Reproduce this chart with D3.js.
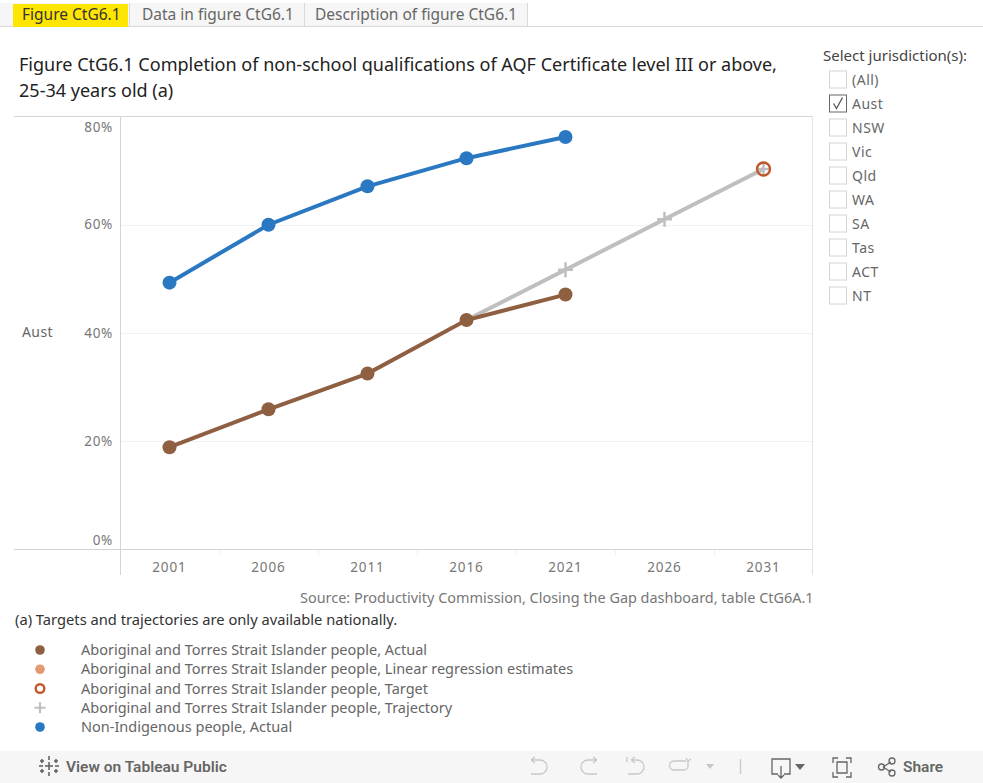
<!DOCTYPE html>
<html>
<head>
<meta charset="utf-8">
<title>Figure CtG6.1</title>
<script src="https://cdn.jsdelivr.net/npm/d3@7"></script>
<style>
html, body { margin: 0; padding: 0; background: #fff; overflow: hidden; }
svg { display: block; }
text { font-family: "Noto Sans", sans-serif; }
</style>
</head>
<body>
<svg id="chart" width="983" height="783"></svg>
<script>
var years = [2001, 2006, 2011, 2016, 2021, 2026, 2031];
var yTicks = [0, 20, 40, 60, 80];

var nonIndigenousActual = [[2001, 49.3], [2006, 60.0], [2011, 67.1], [2016, 72.3], [2021, 76.2]];
var indigenousActual = [[2001, 18.9], [2006, 25.9], [2011, 32.5], [2016, 42.4], [2021, 47.1]];
var indigenousTrajectory = [[2016, 42.4], [2021, 51.7], [2026, 61.0], [2031, 70.3]];
var indigenousTarget = [[2031, 70.3]];

var tabLabels = ['Figure CtG6.1', 'Data in figure CtG6.1', 'Description of figure CtG6.1'];
var jurisdictions = ['(All)', 'Aust', 'NSW', 'Vic', 'Qld', 'WA', 'SA', 'Tas', 'ACT', 'NT'];
var legendLabels = [
    'Aboriginal and Torres Strait Islander people, Actual',
    'Aboriginal and Torres Strait Islander people, Linear regression estimates',
    'Aboriginal and Torres Strait Islander people, Target',
    'Aboriginal and Torres Strait Islander people, Trajectory',
    'Non-Indigenous people, Actual'
];

var BROWN = '#8f5f42', BLUE = '#2b78c2', GREY = '#bfbfbf', ORANGE = '#c0582a', PEACH = '#e39a72';
var TEXT = '#666666';

var svg = d3.select('#chart');

var xScale = d3.scaleBand().domain(years).range([120, 813]);
var yScale = d3.scaleLinear().domain([0, 80]).range([549.5, 116.5]);
var xPos = function (d) { return xScale(d[0]) + xScale.bandwidth() / 2; };
var yPos = function (d) { return yScale(d[1]); };

// tabs along the top
var tabTextX = [22, 142, 315];
var tabDividers = [129, 304, 527];
svg.append('rect').attr('x', 0).attr('y', 3).attr('width', 527).attr('height', 23).attr('fill', '#f6f6f6');
svg.append('line').attr('x1', 0).attr('x2', 983).attr('y1', 26.5).attr('y2', 26.5).attr('stroke', '#d9d9d9');
svg.append('rect').attr('x', 13).attr('y', 4).attr('width', 115).attr('height', 23).attr('fill', '#ffe600');
tabDividers.forEach(function (x) {
    svg.append('line').attr('x1', x + 0.5).attr('x2', x + 0.5).attr('y1', 3).attr('y2', 26).attr('stroke', '#d9d9d9');
});
svg.selectAll('.tab').data(tabLabels).enter().append('text')
    .attr('class', 'tab')
    .attr('x', function (d, i) { return tabTextX[i]; })
    .attr('y', 20)
    .attr('font-size', 15.5)
    .attr('fill', function (d, i) { return i === 0 ? '#333' : '#666'; })
    .text(function (d) { return d; });

// title
svg.append('text').attr('x', 19).attr('y', 71).attr('font-size', 18.05).attr('fill', '#222')
    .text('Figure CtG6.1 Completion of non-school qualifications of AQF Certificate level III or above,');
svg.append('text').attr('x', 19).attr('y', 97).attr('font-size', 18.05).attr('fill', '#222')
    .text('25-34 years old (a)');

// pane frame and gridlines
svg.append('g').selectAll('line').data([20, 40, 60]).enter().append('line')
    .attr('x1', 120).attr('x2', 813)
    .attr('y1', function (d) { return Math.round(yScale(d)) + 0.5; })
    .attr('y2', function (d) { return Math.round(yScale(d)) + 0.5; })
    .attr('stroke', '#f2f2f2');
svg.append('line').attr('x1', 14).attr('x2', 813).attr('y1', 116.5).attr('y2', 116.5).attr('stroke', '#d4d4d4');
svg.append('line').attr('x1', 14).attr('x2', 813).attr('y1', 549.5).attr('y2', 549.5).attr('stroke', '#d4d4d4');
svg.append('line').attr('x1', 120.5).attr('x2', 120.5).attr('y1', 116).attr('y2', 575).attr('stroke', '#d4d4d4');
svg.append('line').attr('x1', 812.5).attr('x2', 812.5).attr('y1', 116).attr('y2', 575).attr('stroke', '#e2e2e2');

// y labels, the first and last are pushed inside the pane
svg.selectAll('.ytick').data(yTicks).enter().append('text')
    .attr('class', 'ytick')
    .attr('x', 113)
    .attr('y', function (d) {
        if (d === 0) return yScale(d) - 5;
        if (d === 80) return yScale(d) + 15;
        return yScale(d) + 4.5;
    })
    .attr('text-anchor', 'end')
    .attr('font-size', 13.5)
    .attr('letter-spacing', 0.7)
    .attr('fill', '#777')
    .text(function (d) { return d + '%'; });
svg.append('text').attr('x', 22).attr('y', 337).attr('font-size', 14).attr('letter-spacing', 0.4).attr('fill', TEXT).text('Aust');

// x axis
var xAxis = d3.axisBottom(xScale).tickSize(0).tickPadding(0);
var xAxisG = svg.append('g').attr('transform', 'translate(0,559)').call(xAxis);
xAxisG.select('.domain').remove();
xAxisG.selectAll('text').attr('font-size', 13.5).attr('fill', '#777')
    .attr('letter-spacing', 0.9)
    .style('font-family', '"Noto Sans", sans-serif').attr('dy', '0.95em');
svg.selectAll('.xdiv').data(years.slice(1)).enter().append('line')
    .attr('class', 'xdiv')
    .attr('x1', function (d) { return xScale(d) + 0.5; })
    .attr('x2', function (d) { return xScale(d) + 0.5; })
    .attr('y1', 550).attr('y2', 555)
    .attr('stroke', '#f0f0f0');

// lines
var line = d3.line().x(xPos).y(yPos);
svg.append('path').datum(indigenousTrajectory).attr('d', line)
    .attr('fill', 'none').attr('stroke', GREY).attr('stroke-width', 4);
svg.append('path').datum(indigenousActual).attr('d', line)
    .attr('fill', 'none').attr('stroke', BROWN).attr('stroke-width', 4);
svg.append('path').datum(nonIndigenousActual).attr('d', line)
    .attr('fill', 'none').attr('stroke', BLUE).attr('stroke-width', 4);

// points
function plus(sel, size, width) {
    sel.append('path')
        .attr('d', 'M' + (-size) + ',0H' + size + 'M0,' + (-size) + 'V' + size)
        .attr('stroke', GREY).attr('stroke-width', width).attr('fill', 'none');
}
svg.selectAll('.traj').data(indigenousTrajectory.slice(1)).enter().append('g')
    .attr('class', 'traj')
    .attr('transform', function (d) { return 'translate(' + xPos(d) + ',' + yPos(d) + ')'; })
    .call(plus, 7.5, 2.5);
svg.selectAll('.target').data(indigenousTarget).enter().append('circle')
    .attr('class', 'target')
    .attr('cx', xPos).attr('cy', yPos).attr('r', 6.5)
    .attr('fill', 'none').attr('stroke', ORANGE).attr('stroke-width', 2.4);
svg.selectAll('.brown').data(indigenousActual).enter().append('circle')
    .attr('class', 'brown')
    .attr('cx', xPos).attr('cy', yPos).attr('r', 7).attr('fill', BROWN);
svg.selectAll('.blue').data(nonIndigenousActual).enter().append('circle')
    .attr('class', 'blue')
    .attr('cx', xPos).attr('cy', yPos).attr('r', 7).attr('fill', BLUE);

// source and note
svg.append('text').attr('x', 300).attr('y', 603).attr('font-size', 14.45).attr('fill', '#777')
    .text('Source: Productivity Commission, Closing the Gap dashboard, table CtG6A.1');
svg.append('text').attr('x', 15).attr('y', 625).attr('font-size', 14.7).attr('fill', '#333')
    .text('(a) Targets and trajectories are only available nationally.');

// legend
var legendY = d3.scalePoint().domain(legendLabels).range([650, 727]);
svg.selectAll('.leg').data(legendLabels).enter().append('text')
    .attr('class', 'leg')
    .attr('x', 81)
    .attr('y', function (d) { return legendY(d) + 5; })
    .attr('font-size', 14.5)
    .attr('fill', TEXT)
    .text(function (d) { return d; });
svg.append('circle').attr('cx', 40).attr('cy', legendY(legendLabels[0])).attr('r', 4.8).attr('fill', BROWN);
svg.append('circle').attr('cx', 40).attr('cy', legendY(legendLabels[1])).attr('r', 4.8).attr('fill', PEACH);
svg.append('circle').attr('cx', 40).attr('cy', legendY(legendLabels[2])).attr('r', 4.3)
    .attr('fill', 'none').attr('stroke', ORANGE).attr('stroke-width', 2.4);
svg.append('g').attr('transform', 'translate(40,' + legendY(legendLabels[3]) + ')').call(plus, 5.5, 2.2);
svg.append('circle').attr('cx', 40).attr('cy', legendY(legendLabels[4])).attr('r', 4.8).attr('fill', BLUE);

// jurisdiction filter
svg.append('text').attr('x', 823).attr('y', 61).attr('font-size', 15).attr('fill', '#444')
    .text('Select jurisdiction(s):');
var filterY = d3.scalePoint().domain(jurisdictions).range([79.5, 295.5]);
var rows = svg.selectAll('.row').data(jurisdictions).enter().append('g')
    .attr('class', 'row')
    .attr('transform', function (d) { return 'translate(0,' + filterY(d) + ')'; });
rows.append('rect')
    .attr('x', 829.5).attr('y', -8.5).attr('width', 17).attr('height', 17)
    .attr('fill', '#fff')
    .attr('stroke', function (d) { return d === 'Aust' ? '#666' : '#d4d4d4'; });
rows.append('text').attr('x', 852).attr('y', 5).attr('font-size', 14).attr('letter-spacing', 0.5).attr('fill', TEXT)
    .text(function (d) { return d; });
svg.append('path')
    .attr('transform', 'translate(0,' + filterY('Aust') + ')')
    .attr('d', 'M833.5,0L836.5,5L842.5,-6')
    .attr('fill', 'none').attr('stroke', '#555').attr('stroke-width', 1.3);

// toolbar
svg.append('rect').attr('x', 0).attr('y', 751).attr('width', 983).attr('height', 32).attr('fill', '#f6f6f6');
var star = svg.append('g').attr('transform', 'translate(49,766)').attr('stroke', '#666').attr('stroke-width', 1.6);
[[0, -10, 0, -6], [0, -4, 0, 4], [0, 6, 0, 10], [-10, 0, -6, 0], [-4, 0, 4, 0], [6, 0, 10, 0],
    [-7, -7, -7, -3], [-9, -5, -5, -5], [7, -7, 7, -3], [5, -5, 9, -5],
    [-7, 3, -7, 7], [-9, 5, -5, 5], [7, 3, 7, 7], [5, 5, 9, 5]].forEach(function (s) {
    star.append('line').attr('x1', s[0]).attr('y1', s[1]).attr('x2', s[2]).attr('y2', s[3]);
});
svg.append('text').attr('x', 66).attr('y', 772).attr('font-size', 15.5).attr('font-weight', 600)
    .attr('fill', '#666').style('font-family', 'Roboto, sans-serif').text('View on Tableau Public');
svg.append('text').attr('x', 903).attr('y', 772).attr('font-size', 15.5).attr('font-weight', 600)
    .attr('fill', '#666').style('font-family', 'Roboto, sans-serif').text('Share');

var toolbarIcons = [
    { d: 'M531,760h9a7,7 0 0 1 0,14h-9M531,760l4,-3M531,760l4,3', c: '#c8c8c8' },
    { d: 'M597,760h-9a7,7 0 0 0 0,14h9M597,760l-4,-3M597,760l-4,3', c: '#c8c8c8' },
    { d: 'M627,757v5M631,760h6a7,7 0 0 1 0,14h-9M631,760l4,-3M631,760l4,3', c: '#c8c8c8' },
    { d: 'M686,761h-12a4,4 0 0 0 0,9h10a4,4 0 0 0 4,-4v-5M686,758l2,3l3,-2', c: '#c8c8c8' },
    { d: 'M740.5,759v15', c: '#c8c8c8' },
    { d: 'M778,774h-6v-15h18v15h-6M781,766v11M778,775l3,3l3,-3', c: '#666' },
    { d: 'M833,763v-5h5M846,758h5v5M851,772v5h-5M838,777h-5v-5M837,762h10v11h-10z', c: '#666' }
];
svg.selectAll('.tool').data(toolbarIcons).enter().append('path')
    .attr('class', 'tool')
    .attr('d', function (d) { return d.d; })
    .attr('fill', 'none')
    .attr('stroke', function (d) { return d.c; })
    .attr('stroke-width', 1.3);
svg.append('path').attr('d', 'M706,764h8l-4,5z').attr('fill', '#c8c8c8');
svg.append('path').attr('d', 'M795,764h10l-5,6z').attr('fill', '#666');
var share = svg.append('g').attr('fill', 'none').attr('stroke', '#666').attr('stroke-width', 1.3);
share.append('path').attr('d', 'M883,767L891,762M883,767L891,772');
share.append('circle').attr('cx', 881.5).attr('cy', 767).attr('r', 3);
share.append('circle').attr('cx', 892).attr('cy', 761).attr('r', 3);
share.append('circle').attr('cx', 892).attr('cy', 773).attr('r', 3);
</script>
</body>
</html>
